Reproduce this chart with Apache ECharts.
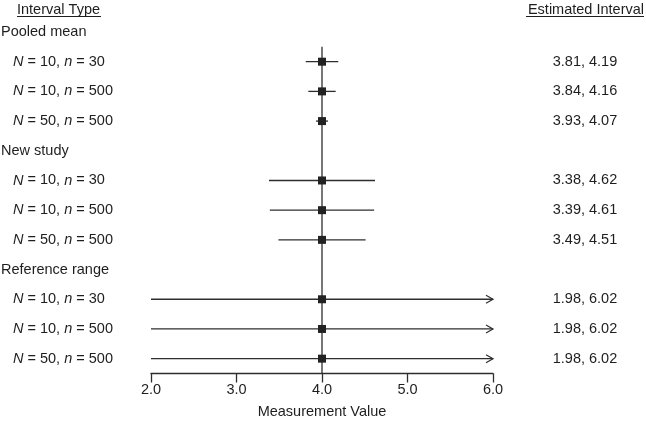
<!DOCTYPE html>
<html><head><meta charset="utf-8">
<script src="https://cdn.jsdelivr.net/npm/echarts@6/dist/echarts.min.js"></script>
<style>html,body{margin:0;padding:0;background:#fff}#c{width:646px;height:428px}</style>
</head><body><div id="c"></div>
<script>
const groupNames = ['Pooled mean', 'New study', 'Reference range'];
const bigN = [10, 10, 50];
const smallN = [30, 500, 500];
const estimates = [4.0, 4.0, 4.0, 4.0, 4.0, 4.0, 4.0, 4.0, 4.0];
const lowerValues = [3.81, 3.84, 3.93, 3.38, 3.39, 3.49, 1.98, 1.98, 1.98];
const upperValues = [4.19, 4.16, 4.07, 4.62, 4.61, 4.51, 6.02, 6.02, 6.02];
const intervalLabels = ['3.81, 4.19', '3.84, 4.16', '3.93, 4.07', '3.38, 4.62', '3.39, 4.61', '3.49, 4.51', '1.98, 6.02', '1.98, 6.02', '1.98, 6.02'];
const xMin = 2, xMax = 6, xStep = 1;
const refValue = 4.0;

// row positions: group header at g*4, its sub-rows right after
const leftLabels = {};
const rightLabels = {};
const barData = [];
groupNames.forEach((g, gi) => {
  const hp = gi * 4;
  leftLabels[hp] = '{h|' + g + '}';
  for (let r = 0; r < 3; r++) {
    const k = gi * 3 + r;
    const pos = hp + 1 + r;
    leftLabels[pos] = '{sp|}{i|N}{t| = ' + bigN[r] + ', }{i|n}{t| = ' + smallN[r] + '}';
    rightLabels[pos] = intervalLabels[k];
    barData.push([pos, estimates[k], lowerValues[k], upperValues[k]]);
  }
});
const yMin = -1, yMax = 11.5;

const FONT = '"Liberation Sans", Arial, sans-serif';
const TXT = '#1e1e1e';
const LINE = '#2e2e2e';
const fs = 14.5;
const LH = 18;

const chart = echarts.init(document.getElementById('c'), null, {renderer: 'canvas'});
chart.setOption({
  animation: false,
  backgroundColor: '#fff',
  textStyle: {fontFamily: FONT},
  grid: {left: 151, right: 153, top: 2.3, bottom: 54.5, containLabel: false, outerBoundsMode: 'none'},
  xAxis: {
    type: 'value', min: xMin, max: xMax, interval: xStep, position: 'bottom',
    axisLine: {show: true, onZero: false, lineStyle: {color: LINE, width: 1.3}},
    axisTick: {show: true, length: 9, lineStyle: {color: LINE, width: 1.3}},
    splitLine: {show: false},
    axisLabel: {formatter: v => v.toFixed(1), color: TXT, fontSize: fs, fontFamily: FONT, margin: 9},
    name: 'Measurement Value', nameLocation: 'middle', nameGap: 31,
    nameTextStyle: {color: TXT, fontSize: fs, fontFamily: FONT}
  },
  yAxis: [{
    type: 'value', min: yMin, max: yMax, interval: 1, inverse: true,
    axisLine: {show: false}, axisTick: {show: false}, splitLine: {show: false},
    axisLabel: {
      align: 'left', margin: 150, color: TXT, fontFamily: FONT, fontSize: fs,
      formatter: v => leftLabels[v] || '',
      rich: {
        h: {fontSize: fs, color: TXT, fontFamily: FONT, lineHeight: LH, verticalAlign: 'middle'},
        sp: {width: 12, height: LH, lineHeight: LH},
        i: {fontSize: fs, color: TXT, fontFamily: FONT, fontStyle: 'italic', lineHeight: LH, verticalAlign: 'middle'},
        t: {fontSize: fs, color: TXT, fontFamily: FONT, lineHeight: LH, verticalAlign: 'middle'}
      }
    }
  }, {
    type: 'value', min: yMin, max: yMax, interval: 1, inverse: true, position: 'right',
    axisLine: {show: false}, axisTick: {show: false}, splitLine: {show: false},
    axisLabel: {align: 'center', margin: 92, color: TXT, fontFamily: FONT, fontSize: fs,
      formatter: v => rightLabels[v] || ''}
  }],
  graphic: [
    {type: 'text', left: 17, top: 2, style: {text: 'Interval Type', fill: TXT, font: fs + 'px ' + FONT}},
    {type: 'line', shape: {x1: 17, y1: 16.5, x2: 101, y2: 16.5}, style: {stroke: TXT, lineWidth: 1}},
    {type: 'text', right: 2, top: 2, style: {text: 'Estimated Interval', fill: TXT, font: fs + 'px ' + FONT}},
    {type: 'line', shape: {x1: 526, y1: 16.5, x2: 644, y2: 16.5}, style: {stroke: TXT, lineWidth: 1}}
  ],
  series: [{
    type: 'line', yAxisIndex: 0, symbol: 'none', z: 1,
    data: [[refValue, 0.5], [refValue, yMax]],
    lineStyle: {color: LINE, width: 1.3}
  }, {
    type: 'custom', yAxisIndex: 0, z: 3,
    encode: {x: [1, 2, 3], y: 0},
    data: barData,
    renderItem: (params, api) => {
      const y = api.value(0), est = api.value(1), lo = api.value(2), hi = api.value(3);
      const p1 = api.coord([Math.max(lo, xMin), y]);
      const p2 = api.coord([Math.min(hi, xMax), y]);
      const pe = api.coord([est, y]);
      const ch = [{
        type: 'line', shape: {x1: p1[0], y1: p1[1], x2: p2[0], y2: p2[1]},
        style: {stroke: LINE, lineWidth: 1.3}
      }];
      if (hi > xMax) {
        ch.push({type: 'polyline', shape: {points: [[p2[0] - 7, p2[1] - 4], [p2[0], p2[1]], [p2[0] - 7, p2[1] + 4]]},
          style: {stroke: LINE, lineWidth: 1.2, fill: null}});
      }
      ch.push({type: 'rect', shape: {x: pe[0] - 4, y: pe[1] - 4, width: 8, height: 8}, style: {fill: '#222'}});
      return {type: 'group', children: ch};
    }
  }]
});
</script></body></html>
